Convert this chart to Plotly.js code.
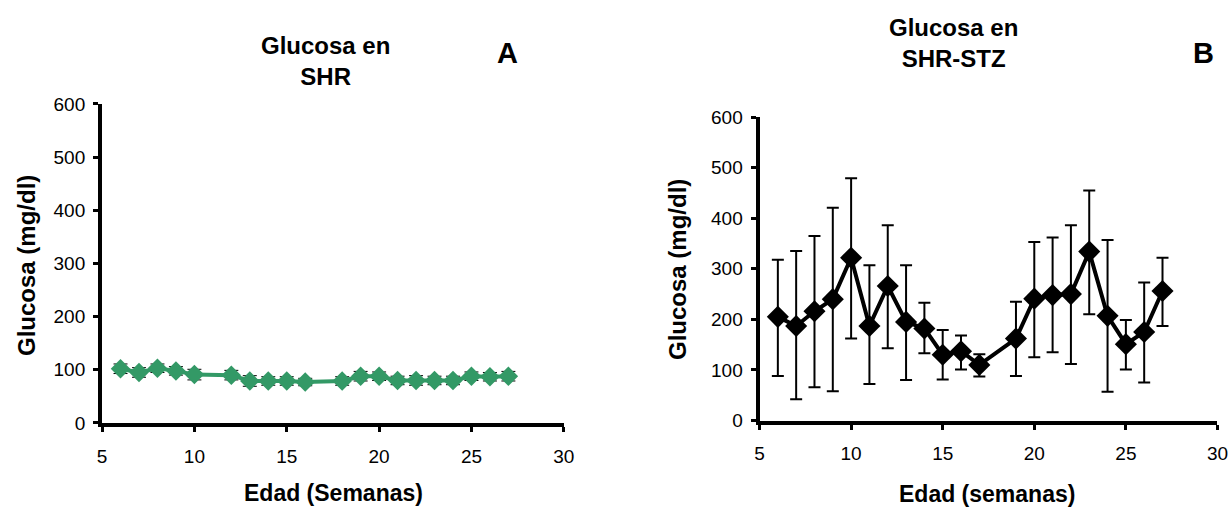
<!DOCTYPE html>
<html>
<head>
<meta charset="utf-8">
<script src="https://cdn.plot.ly/plotly-3.0.1.min.js"></script>
<style>html,body{margin:0;padding:0;background:#fff;}#chart{width:1231px;height:507px;}</style>
</head>
<body>
<div id="chart"></div>
<script>
// Panel A: SHR
var weeksA = [6, 7, 8, 9, 10, 12, 13, 14, 15, 16, 18, 19, 20, 21, 22, 23, 24, 25, 26, 27];
var glucoseA = [102, 95, 103, 98, 91, 90, 79, 79, 79, 77, 79, 88, 88, 80, 80, 80, 80, 88, 87, 88];
var errA = [9, 9, 8, 8, 10, 9, 10, 8, 8, 7, 8, 9, 8, 8, 9, 8, 8, 8, 8, 9];

// Panel B: SHR-STZ
var weeksB = [6, 7, 8, 9, 10, 11, 12, 13, 14, 15, 16, 17, 19, 20, 21, 22, 23, 24, 25, 26, 27];
var glucoseB = [205, 187, 216, 240, 322, 187, 266, 195, 182, 130, 137, 110, 162, 241, 248, 250, 334, 207, 151, 175, 256];
var upperB = [318, 335, 365, 421, 479, 307, 386, 307, 233, 179, 168, 131, 235, 353, 362, 386, 455, 357, 199, 273, 322];
var lowerB = [88, 42, 66, 58, 162, 72, 143, 80, 133, 81, 101, 87, 88, 125, 135, 112, 210, 57, 101, 75, 187];

var errPlusB = upperB.map(function(u, i){ return u - glucoseB[i]; });
var errMinusB = lowerB.map(function(l, i){ return glucoseB[i] - l; });

var FONT = 'Liberation Sans, Arial, sans-serif';

var traces = [
  {
    x: weeksA, y: glucoseA, type: 'scatter', mode: 'lines+markers',
    xaxis: 'x', yaxis: 'y',
    line: {color: '#339966', width: 4},
    marker: {symbol: 'diamond', size: 15, color: '#339966'},
    error_y: {type: 'data', array: errA, visible: true, color: '#000', thickness: 1, width: 7}
  },
  {
    x: weeksB, y: glucoseB, type: 'scatter', mode: 'lines+markers',
    xaxis: 'x2', yaxis: 'y2',
    line: {color: '#000', width: 4},
    marker: {symbol: 'diamond', size: 17, color: '#000'},
    error_y: {type: 'data', symmetric: false, array: errPlusB, arrayminus: errMinusB, visible: true, color: '#000', thickness: 2, width: 6}
  }
];

function xax(domain, anchor) {
  return {
    domain: domain, range: [5, 30], dtick: 5, tick0: 5, anchor: anchor,
    showline: true, linecolor: '#000', linewidth: 4,
    ticks: 'outside', ticklen: 5, tickwidth: 3, tickcolor: '#000',
    ticklabelstandoff: 8,
    showgrid: false, zeroline: false,
    tickfont: {family: FONT, size: 19, color: '#000'}
  };
}
function yax(domain, anchor) {
  return {
    domain: domain, range: [0, 600], dtick: 100, anchor: anchor,
    showline: true, linecolor: '#000', linewidth: 4,
    ticks: 'outside', ticklen: 5, tickwidth: 3, tickcolor: '#000',
    ticklabelstandoff: 4,
    showgrid: false, zeroline: false,
    tickfont: {family: FONT, size: 19, color: '#000'}
  };
}

function ann(text, px, py, size, angle) {
  return {text: text, xref: 'paper', yref: 'paper', x: px / 1231, y: 1 - py / 507,
          xanchor: 'center', yanchor: 'middle', showarrow: false, textangle: angle || 0,
          font: {family: FONT, size: size, color: '#000'}};
}

var layout = {
  width: 1231, height: 507,
  margin: {l: 0, r: 0, t: 0, b: 0},
  paper_bgcolor: '#fff', plot_bgcolor: '#fff',
  showlegend: false,
  xaxis: xax([0.0829, 0.458], 'y'),
  yaxis: yax([0.1657, 0.795], 'x'),
  xaxis2: xax([0.617, 0.989], 'y2'),
  yaxis2: yax([0.1706, 0.769], 'x2'),
  annotations: [
    ann('<b>Glucosa en<br>SHR</b>', 326, 61, 24),
    ann('<b>A</b>', 507, 53, 29),
    ann('<b>Glucosa en<br>SHR-STZ</b>', 953, 43, 24),
    ann('<b>B</b>', 1203, 53, 29),
    ann('<b>Glucosa (mg/dl)</b>', 26, 266, 24, -90),
    ann('<b>Glucosa (mg/dl)</b>', 677, 269, 24, -90),
    ann('<b>Edad (Semanas)</b>', 333, 493, 23),
    ann('<b>Edad (semanas)</b>', 987, 494, 23)
  ]
};

Plotly.newPlot('chart', traces, layout, {displayModeBar: false, staticPlot: true});
</script>
</body>
</html>
